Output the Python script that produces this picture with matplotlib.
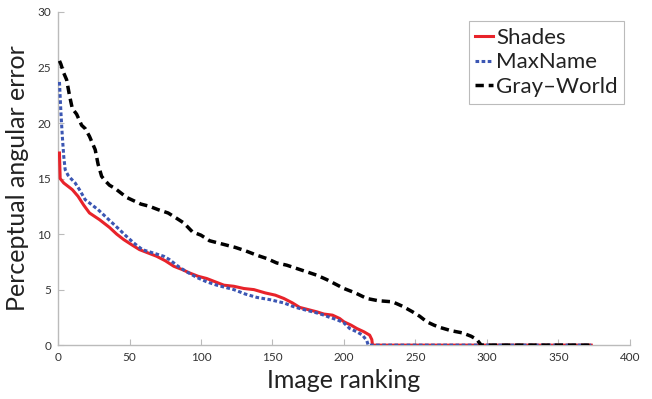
import matplotlib
matplotlib.use("Agg")
import matplotlib.pyplot as plt

# sorted per-image errors
shades_x = [1, 1.5, 4, 7, 10, 14, 18, 22, 29, 36, 41, 46, 52, 57, 63, 69, 75, 81, 87,
            92, 98, 104, 110, 116, 123, 130, 137, 145, 152, 158, 164, 169, 175, 181,
            186, 192, 197, 200, 205, 209, 214, 218, 219.5, 220, 373]
shades_y = [17.3, 15.0, 14.6, 14.3, 14.0, 13.4, 12.6, 11.9, 11.3, 10.6, 10.0, 9.5, 9.0,
            8.6, 8.3, 8.0, 7.6, 7.1, 6.8, 6.5, 6.2, 6.0, 5.7, 5.4, 5.3, 5.1, 5.0, 4.7,
            4.5, 4.2, 3.8, 3.4, 3.2, 3.0, 2.8, 2.7, 2.4, 2.1, 1.8, 1.5, 1.2, 0.9, 0.5,
            0, 0]

maxname_x = [1, 2, 3, 4, 5, 7, 9, 12, 15, 19, 24, 28, 33, 38, 43, 47, 53, 59, 64, 69,
             74, 78, 84, 90, 97, 104, 111, 117, 123, 131, 139, 148, 158, 164, 169, 175,
             181, 186, 190, 195, 200, 204, 209, 213, 216, 217, 373]
maxname_y = [23.7, 21.0, 18.8, 17.0, 15.8, 15.3, 15.0, 14.6, 14.0, 13.1, 12.6, 12.2,
             11.6, 11.0, 10.4, 9.9, 9.2, 8.6, 8.4, 8.2, 8.0, 7.7, 7.1, 6.6, 6.1, 5.7,
             5.4, 5.2, 5.0, 4.6, 4.3, 4.1, 3.8, 3.5, 3.3, 3.1, 2.9, 2.7, 2.5, 2.3, 2.0,
             1.5, 1.2, 0.9, 0.4, 0, 0]

gray_x = [1, 2, 4, 6, 8, 10, 13, 16.5, 19, 22, 26, 28, 30.5, 33, 36, 40, 43, 48, 53,
          58, 64, 70, 77, 82, 88, 94, 100, 106, 112, 118, 124, 131, 139, 146, 153, 160,
          167, 174, 181, 188, 194, 200, 208, 216, 224, 234, 241, 248, 253, 258, 263,
          267, 275, 283, 289, 293, 296, 373]
gray_y = [25.6, 25.3, 24.5, 23.9, 22.5, 21.3, 20.8, 19.8, 19.5, 18.8, 17.6, 16.3, 15.2,
          14.8, 14.4, 14.1, 13.8, 13.3, 13.0, 12.7, 12.5, 12.2, 11.9, 11.5, 11.0, 10.2,
          9.9, 9.4, 9.2, 9.0, 8.8, 8.5, 8.1, 7.8, 7.4, 7.2, 6.9, 6.6, 6.3, 5.9, 5.5,
          5.1, 4.7, 4.2, 4.0, 3.9, 3.5, 3.0, 2.6, 2.1, 1.8, 1.6, 1.3, 1.1, 0.8, 0.5,
          0, 0]

x_ticks = [0, 50, 100, 150, 200, 250, 300, 350, 400]
y_ticks = [0, 5, 10, 15, 20, 25, 30]

plt.rcParams["font.family"] = ["Lato", "DejaVu Sans"]

fig = plt.figure(figsize=(6.52, 3.99), dpi=100)
ax = fig.add_axes([0.089, 0.135, 0.877, 0.835])

ax.plot(shades_x, shades_y, color="#e8232a", lw=2.2, label="Shades", zorder=3)
ax.plot(maxname_x, maxname_y, color="#3b56b3", lw=2.2, linestyle=(0, (1.2, 0.8)),
        label="MaxName", zorder=4)
ax.plot(gray_x, gray_y, color="black", lw=2.5, linestyle=(0, (2.4, 1.4)),
        label="Gray\u2013World", zorder=5)

ax.set_xlim(0, 400)
ax.set_ylim(0, 30)
ax.set_xticks(x_ticks)
ax.set_yticks(y_ticks)
for side in ("top", "right"):
    ax.spines[side].set_visible(False)
for side in ("left", "bottom"):
    ax.spines[side].set_color("#bbbbbb")
    ax.spines[side].set_linewidth(1.0)
ax.tick_params(direction="in", length=4, width=0.8, color="#bbbbbb",
               labelsize=8.5, labelcolor="#333333", pad=5)

ax.set_xlabel("Image ranking", fontsize=18, color="#222222", labelpad=4)
ax.set_ylabel("Perceptual angular error", fontsize=18, color="#222222", labelpad=6)

leg = ax.legend(loc="upper right", bbox_to_anchor=(0.99, 0.972), fontsize=16,
                handlelength=0.8, handletextpad=0.12, borderpad=0.3,
                borderaxespad=0, labelspacing=0.2, fancybox=False, framealpha=1)
leg.get_frame().set_edgecolor("#bbbbbb")
leg.get_frame().set_linewidth(0.8)
for t in leg.get_texts():
    t.set_color("#222222")

fig.savefig("out.png", dpi=100)
